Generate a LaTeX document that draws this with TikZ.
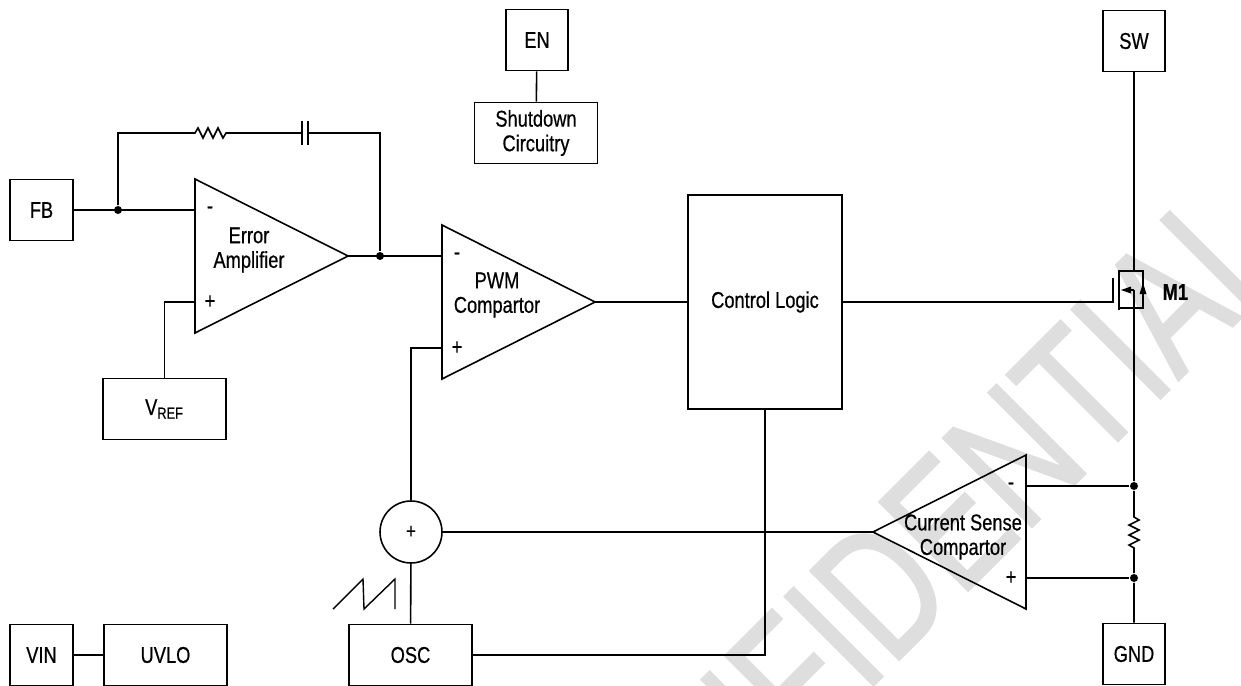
\documentclass[tikz,border=0pt]{standalone}
\usepackage{fontspec}
\setmainfont{Liberation Sans}[FakeStretch=0.8, FakeBold=0.6]
\newfontfamily\markfont{Liberation Sans}[FakeStretch=0.74, FakeBold=1.2]
\usetikzlibrary{positioning}
\colorlet{mark-color}{black!13}
\tikzset{
    pin/.style   = {draw, minimum width=1.25cm, minimum height=1.22cm, inner sep=0pt},
    wide/.style  = {draw, minimum width=2.46cm, minimum height=1.22cm, inner sep=0pt, align=center},
    dot/.style   = {circle, fill, inner sep=0pt, minimum size=0.16cm},
    sign/.style  = {inner sep=0pt},
    amp-text/.style = {align=center, inner sep=0pt},
    watermark/.style = {text=mark-color, inner sep=0pt, font=\markfont\fontsize{104}{104}\selectfont},
    pics/opamp/.style = {
        code = {%
        \draw (0,-77) coordinate (-top)
           -- (153,0) coordinate (-out)
           -- (0,77) coordinate (-bot)
           -- cycle;
        \coordinate (-minus) at (0,-46);
        \coordinate (-plus)  at (0,46);
        \node[sign] (-m) at (15,-46) {-};
        \node[sign] (-p) at (15,46) {+};
        }
    },
}

\begin{document}
\begin{tikzpicture}[x=0.02cm, y=-0.02cm, line width=0.9pt, font=\fontsize{13}{14}\selectfont]

\useasboundingbox (0,0) rectangle (1241,686);

\begin{scope}
    \clip (0,0) rectangle (1241,686);
    \node[watermark, rotate=45] (wmark) at (900,570) {CONFIDENTIAL};
\end{scope}

% pins
\node[pin] (fb)  at (41.5,210) {FB};
\node[pin] (en)  at (537,40)   {EN};
\node[pin] (sw)  at (1134,41)  {SW};
\node[pin] (vin) at (41.5,655) {VIN};
\node[pin] (gnd) at (1134,654) {GND};

% blocks
\node[wide] (sd)   at (536,133)   {Shutdown\\Circuitry};
\node[wide] (vref) at (164.5,409) {V\textsubscript{REF}};
\node[wide] (uvlo) at (165.5,655) {UVLO};
\node[wide] (osc)  at (410.5,655) {OSC};
\node[draw, minimum width=3.08cm, minimum height=4.28cm] (ctrl) at (765,302) {Control Logic};
\node[draw, circle, minimum size=1.24cm, inner sep=0pt, font=\fontsize{12}{12}\selectfont] (sum) at (411,532) {+};

% amplifiers
\pic (ea)  at (195,256)  {opamp};
\pic (pwm) at (442,302)  {opamp};
\pic[xscale=-1] (cs) at (1026,532) {opamp};
\node[amp-text] (ea-lbl)  at (249,250) {Error\\Amplifier};
\node[amp-text] (pwm-lbl) at (497,295) {PWM\\Compartor};
\node[amp-text] (cs-lbl)  at (963,537) {Current Sense\\Compartor};

% junctions
\node[dot] (j-fb)  at (118,210)  {};
\node[dot] (j-ea)  at (380,256)  {};
\node[dot] (j-csm) at (1134,486) {};
\node[dot] (j-csp) at (1134,578) {};

% compensation network
\draw (j-fb) -- (118,133) -- (195,133)
   -- (198,128) -- (203,138) -- (208,128) -- (213,138) -- (218,128) -- (223,138)
   -- (226,133) -- (302,133);
\draw (302,121) -- (302,145);
\draw (308,121) -- (308,145);
\draw (308,133) -- (380,133) -- (j-ea);

\draw (fb) -- (ea-minus);
\draw (vref) |- (ea-plus);
\draw (ea-out) -- (pwm-minus);
\draw (pwm-out) -- (ctrl);
\draw (sum) |- (pwm-plus);
\draw (sum) -- (cs-out);
\draw (sum) -- (osc);
\draw (osc) -| (ctrl);
\draw (en) -- (sd);
\draw (vin) -- (uvlo);
\draw (cs-minus) -- (j-csm);
\draw (cs-plus) -- (j-csp);

% M1
\coordinate (gate) at (1113,302);
\draw (ctrl.east) -- (gate) -- (1113,278);
\draw (1119,270) -- (1119,310);
\draw (sw) -- (1134,271);
\draw (1119,271) -- (1143,271) -- (1143,308) -- (1119,308);
\fill (1143,283) -- (1139.5,294) -- (1146.5,294) -- cycle;
\draw (1134,290) -- (1128,290);
\fill (1121,290) -- (1131,286.5) -- (1131,293.5) -- cycle;
\node[font=\bfseries\fontsize{13}{13}\selectfont, anchor=west] (m1) at (1156,292) {M1};

% sense resistor
\draw (1134,290) -- (j-csm) -- (1134,517)
   -- (1139,520) -- (1129,525) -- (1139,530) -- (1129,535) -- (1139,540) -- (1129,545)
   -- (1134,548) -- (j-csp) -- (gnd);

% ramp
\draw[line width=0.8pt] (333,609) -- (363,579) -- (364,609) -- (395,579) -- (395,609);

\end{tikzpicture}
\end{document}
